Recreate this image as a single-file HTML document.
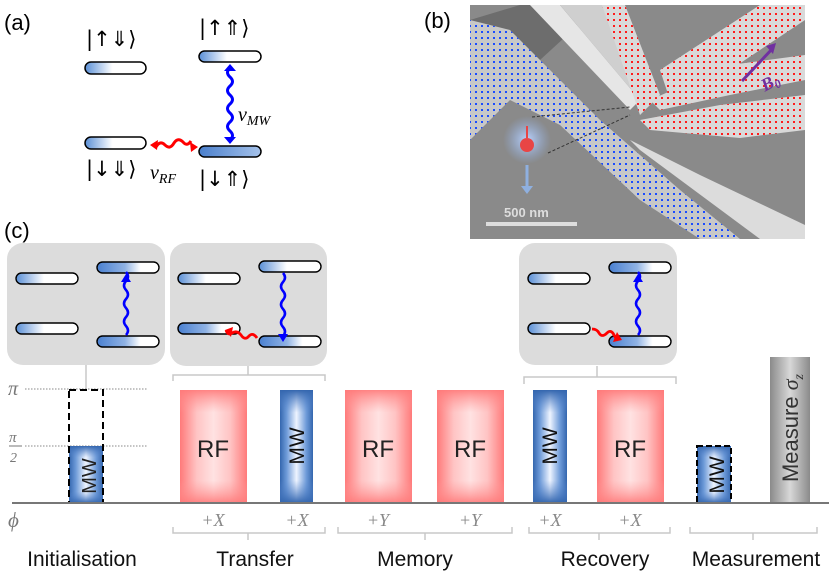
<!DOCTYPE html>
<html><head><meta charset="utf-8"><style>
html,body{margin:0;padding:0;background:#fff}
svg{display:block}
text{font-family:"Liberation Sans",sans-serif}
.it,.it text,text.it{font-family:"Liberation Serif",serif;font-style:italic}
.kt{font-family:"DejaVu Sans",sans-serif}
</style></head><body>
<svg width="829" height="573" viewBox="0 0 829 573" xmlns="http://www.w3.org/2000/svg">
<defs>
<linearGradient id="pl" x1="0" x2="1" y1="0" y2="0"><stop offset="0" stop-color="#5a8fd6"/><stop offset="0.45" stop-color="#fff"/><stop offset="1" stop-color="#fff"/></linearGradient>
<linearGradient id="pl2" x1="0" x2="1" y1="0" y2="0"><stop offset="0" stop-color="#4a80d0"/><stop offset="0.45" stop-color="#8fb2e4"/><stop offset="0.7" stop-color="#fff"/><stop offset="1" stop-color="#fff"/></linearGradient>
<linearGradient id="plf" x1="0" x2="1" y1="0" y2="0"><stop offset="0" stop-color="#4a7fcc"/><stop offset="1" stop-color="#a5c2ea"/></linearGradient>
<linearGradient id="rfh" x1="0" x2="1"><stop offset="0" stop-color="#ff7a7a"/><stop offset="0.25" stop-color="#ffc4c4"/><stop offset="0.5" stop-color="#ffe2e2"/><stop offset="0.75" stop-color="#ffc4c4"/><stop offset="1" stop-color="#ff7a7a"/></linearGradient>
<linearGradient id="rfv" x1="0" x2="0" y1="0" y2="1"><stop offset="0" stop-color="#ff7a7a" stop-opacity=".9"/><stop offset="0.2" stop-color="#ff9a9a" stop-opacity="0"/><stop offset="0.8" stop-color="#ff9a9a" stop-opacity="0"/><stop offset="1" stop-color="#ff7a7a" stop-opacity=".9"/></linearGradient>
<linearGradient id="mwh" x1="0" x2="1"><stop offset="0" stop-color="#3466ae"/><stop offset="0.2" stop-color="#6d9ad8"/><stop offset="0.5" stop-color="#eef4ff"/><stop offset="0.8" stop-color="#6d9ad8"/><stop offset="1" stop-color="#3466ae"/></linearGradient>
<linearGradient id="mwv" x1="0" x2="0" y1="0" y2="1"><stop offset="0" stop-color="#3466ae" stop-opacity="1"/><stop offset="0.2" stop-color="#5b8ad0" stop-opacity="0"/><stop offset="0.8" stop-color="#5b8ad0" stop-opacity="0"/><stop offset="1" stop-color="#3466ae" stop-opacity="1"/></linearGradient>
<linearGradient id="gyh" x1="0" x2="1"><stop offset="0" stop-color="#8a8a8a"/><stop offset="0.5" stop-color="#d8d8d8"/><stop offset="1" stop-color="#8a8a8a"/></linearGradient>
<pattern id="bd" width="6" height="6" patternUnits="userSpaceOnUse"><rect x="1" y="1" width="2" height="2" fill="#1a4cff"/></pattern>
<pattern id="rd" width="6" height="6" patternUnits="userSpaceOnUse"><rect x="1" y="1" width="2" height="2" fill="#ff1a1a"/></pattern>
<radialGradient id="glow"><stop offset="0" stop-color="#bcd4ff"/><stop offset="1" stop-color="#8fb0e8" stop-opacity="0"/></radialGradient>
</defs>

<!-- (a) -->
<text x="4" y="30" font-size="22">(a)</text>
<text x="86" y="46" font-size="21" class="kt">|↑⇓⟩</text>
<text x="199" y="35" font-size="21" class="kt">|↑⇑⟩</text>
<text x="86" y="176" font-size="21" class="kt">|↓⇓⟩</text>
<text x="199" y="186" font-size="21" class="kt">|↓⇑⟩</text>
<rect x="85" y="62" width="61" height="12" rx="6" fill="url(#pl)" stroke="#000" stroke-width="1.5"/>
<rect x="199" y="51" width="62" height="11" rx="5.5" fill="url(#pl)" stroke="#000" stroke-width="1.5"/>
<rect x="85" y="137" width="61" height="12" rx="6" fill="url(#pl)" stroke="#000" stroke-width="1.5"/>
<rect x="199" y="146" width="62" height="11" rx="5.5" fill="url(#plf)" stroke="#000" stroke-width="1.5"/>
<path d="M230,140 q5,-4.5 0,-9 q-5,-4.5 0,-9 q5,-4.5 0,-9 q-5,-4.5 0,-9 q5,-4.5 0,-9 q-5,-4.5 0,-9 q5,-4.5 0,-9 q-5,-4.5 0,-9" fill="none" stroke="#0000ff" stroke-width="3"/>
<path d="M224,71 L230,64 L236,71Z M224,137 L230,144 L236,137Z" fill="#0000ff"/>
<text x="238" y="121" font-size="20" class="it">ν<tspan font-size="14" dy="4">MW</tspan></text>
<path d="M156,147 q4,-7 9,-2 q5,5 9,-2 q4,-6 9,-1 q4,5 8,-1" fill="none" stroke="#ff0000" stroke-width="3"/>
<path d="M150,145 L158,140 L157,150Z M198,147 L190,142 L191,152Z" fill="#ff0000"/>
<text x="150" y="179" font-size="20" class="it">ν<tspan font-size="14" dy="4">RF</tspan></text>

<!-- (b) -->
<text x="424" y="28" font-size="22">(b)</text>
<rect x="470" y="5" width="335" height="234" fill="#8a8a8a"/>
<path d="M470,20 L520,5 L600,5 L540,60 L500,100 L470,140Z" fill="#6d6d6d"/>
<path d="M470,20 L470,140 L510,100 L560,125 L640,200 L700,239 L740,239 L680,190 L600,120 L540,60 L510,30Z" fill="#c8c8c8"/>
<path d="M470,20 L470,140 L510,100 L560,125 L640,200 L700,239 L740,239 L680,190 L600,120 L540,60 L510,30Z" fill="url(#bd)"/>
<path d="M530,5 L560,5 L640,100 L630,110Z" fill="#e6e6e6"/>
<path d="M560,5 L610,5 L650,90 L640,100Z" fill="#cfcfcf"/>
<path d="M630,140 L700,175 L805,225 L805,239 L760,239 L640,150Z" fill="#dcdcdc"/>
<path d="M602,5 L625,5 L660,95 L640,115Z" fill="#d9d9d9"/>
<path d="M602,5 L625,5 L660,95 L640,115Z" fill="url(#rd)"/>
<path d="M660,70 L760,5 L805,5 L805,20 L700,90 L670,100Z" fill="#d9d9d9"/>
<path d="M660,70 L760,5 L805,5 L805,20 L700,90 L670,100Z" fill="url(#rd)"/>
<path d="M650,100 L730,65 L805,55 L805,80 L730,95 L660,110Z" fill="#d9d9d9"/>
<path d="M650,100 L730,65 L805,55 L805,80 L730,95 L660,110Z" fill="url(#rd)"/>
<path d="M640,120 L720,105 L805,95 L805,130 L740,138 L650,130Z" fill="#d9d9d9"/>
<path d="M640,120 L720,105 L805,95 L805,130 L740,138 L650,130Z" fill="url(#rd)"/>
<line x1="532" y1="117" x2="630" y2="107" stroke="#333" stroke-dasharray="3,2"/>
<line x1="548" y1="153" x2="630" y2="115" stroke="#333" stroke-dasharray="3,2"/>
<circle cx="527" cy="140" r="24" fill="url(#glow)"/>
<circle cx="527" cy="145" r="7" fill="#e84545"/>
<line x1="527" y1="138" x2="527" y2="126" stroke="#e84545" stroke-width="2"/>
<line x1="527" y1="165" x2="527" y2="188" stroke="#8fb0e0" stroke-width="3"/>
<path d="M521,186 L527,194 L533,186Z" fill="#8fb0e0"/>
<text x="504" y="217" font-size="13" font-weight="bold" fill="#ddd">500 nm</text>
<rect x="486" y="222" width="91" height="4" fill="#ddd"/>
<line x1="742" y1="81" x2="773" y2="48" stroke="#7030a0" stroke-width="3"/>
<path d="M766,46 L776,43 L773,54Z" fill="#7030a0"/>
<text x="760" y="88" font-size="18" font-weight="bold" class="it" fill="#7030a0" transform="rotate(-28 770 80)">B<tspan font-size="12" dy="3">0</tspan></text>

<!-- (c) -->
<text x="4" y="238" font-size="22">(c)</text>
<rect x="7" y="243" width="158" height="122" rx="16" fill="#dcdcdc"/>
<rect x="170" y="243" width="157" height="123" rx="16" fill="#dcdcdc"/>
<rect x="519" y="243" width="158" height="122" rx="16" fill="#dcdcdc"/>
<g stroke="#000" stroke-width="1.4">
<rect x="16" y="273" width="62" height="11" rx="5.5" fill="url(#pl)"/>
<rect x="16" y="323" width="62" height="11" rx="5.5" fill="url(#pl)"/>
<rect x="97" y="262" width="62" height="11" rx="5.5" fill="url(#pl2)"/>
<rect x="97" y="336" width="62" height="11" rx="5.5" fill="url(#pl2)"/>
<rect x="178" y="273" width="62" height="11" rx="5.5" fill="url(#pl)"/>
<rect x="178" y="323" width="62" height="11" rx="5.5" fill="url(#pl2)"/>
<rect x="259" y="261" width="62" height="11" rx="5.5" fill="url(#pl)"/>
<rect x="259" y="336" width="62" height="11" rx="5.5" fill="url(#pl2)"/>
<rect x="528" y="273" width="62" height="11" rx="5.5" fill="url(#pl)"/>
<rect x="528" y="323" width="62" height="11" rx="5.5" fill="url(#pl)"/>
<rect x="609" y="262" width="62" height="11" rx="5.5" fill="url(#pl2)"/>
<rect x="609" y="336" width="62" height="11" rx="5.5" fill="url(#pl2)"/>
</g>
<path d="M126,335 q4,-4.5 0,-9 q-4,-4.5 0,-9 q4,-4.5 0,-9 q-4,-4.5 0,-9 q4,-4.5 0,-9 q-4,-4.5 0,-9 q4,-4.5 0,-9" fill="none" stroke="#0000ff" stroke-width="2.5"/>
<path d="M121,282 L126,274 L131,282Z" fill="#0000ff"/>
<path d="M283,273 q4,4.5 0,9 q-4,4.5 0,9 q4,4.5 0,9 q-4,4.5 0,9 q4,4.5 0,9 q-4,4.5 0,9 q4,4.5 0,9" fill="none" stroke="#0000ff" stroke-width="2.5"/>
<path d="M278,334 L283,342 L288,334Z" fill="#0000ff"/>
<path d="M257,338 q-4,-6 -8,-2 q-4,5 -8,-1 q-4,-5 -9,-2 q-4,3 -6,-3" fill="none" stroke="#ff0000" stroke-width="2.8"/>
<path d="M225,330 L233,327 L231,337Z" fill="#ff0000"/>
<path d="M638,335 q4,-4.5 0,-9 q-4,-4.5 0,-9 q4,-4.5 0,-9 q-4,-4.5 0,-9 q4,-4.5 0,-9 q-4,-4.5 0,-9 q4,-4.5 0,-9" fill="none" stroke="#0000ff" stroke-width="2.5"/>
<path d="M633,282 L638,274 L643,282Z" fill="#0000ff"/>
<path d="M592,329 q5,0 7,4 q3,5 8,0 q4,-4 7,2 q2,4 4,5" fill="none" stroke="#ff0000" stroke-width="2.8"/>
<path d="M613,342 L622,340 L617,332Z" fill="#ff0000"/>

<g fill="none" stroke="#c8c8c8" stroke-width="1.5">
<line x1="86" y1="365" x2="86" y2="390"/>
<path d="M173,381 v-6 h75 v-9 M248,375 h77 v6"/>
<path d="M524,384 v-7 h73 v-11 M597,377 h79 v7"/>
<path d="M173,527 v6 h75 v7 M248,533 h77 v-6"/>
<path d="M338,527 v6 h87 v7 M425,533 h87 v-6"/>
<path d="M529,527 v6 h70 v7 M599,533 h71 v-6"/>
<path d="M690,527 v6 h63 v7 M753,533 h64 v-6"/>
</g>
<line x1="25" y1="389" x2="148" y2="389" stroke="#888" stroke-dasharray="1.5,1.5"/>
<line x1="25" y1="446" x2="148" y2="446" stroke="#888" stroke-dasharray="1.5,1.5"/>
<text x="8" y="395" font-size="20" class="it" fill="#777">π</text>
<text x="9" y="442" font-size="15" class="it" fill="#777">π</text>
<line x1="9" y1="446" x2="22" y2="446" stroke="#777"/>
<text x="10" y="462" font-size="14" class="it" fill="#777">2</text>
<text x="8" y="527" font-size="21" class="it" fill="#777">ϕ</text>

<rect x="69" y="446" width="34" height="57" fill="url(#mwh)"/>
<rect x="69" y="446" width="34" height="57" fill="url(#mwv)"/>
<rect x="69" y="390" width="34" height="113" fill="none" stroke="#000" stroke-width="2" stroke-dasharray="7,4"/>
<text transform="translate(96 476) rotate(-90)" text-anchor="middle" font-size="20" fill="#222">MW</text>

<g>
<rect x="180" y="390" width="67" height="113" fill="url(#rfh)"/><rect x="180" y="390" width="67" height="113" fill="url(#rfv)"/>
<rect x="345" y="390" width="67" height="113" fill="url(#rfh)"/><rect x="345" y="390" width="67" height="113" fill="url(#rfv)"/>
<rect x="437" y="390" width="67" height="113" fill="url(#rfh)"/><rect x="437" y="390" width="67" height="113" fill="url(#rfv)"/>
<rect x="597" y="390" width="67" height="113" fill="url(#rfh)"/><rect x="597" y="390" width="67" height="113" fill="url(#rfv)"/>
<rect x="280" y="390" width="33" height="113" fill="url(#mwh)"/><rect x="280" y="390" width="33" height="113" fill="url(#mwv)"/>
<rect x="533" y="390" width="34" height="113" fill="url(#mwh)"/><rect x="533" y="390" width="34" height="113" fill="url(#mwv)"/>
<rect x="697" y="446" width="34" height="57" fill="url(#mwh)"/><rect x="697" y="446" width="34" height="57" fill="url(#mwv)"/>
<rect x="697" y="446" width="34" height="57" fill="none" stroke="#000" stroke-width="2" stroke-dasharray="6,3"/>
<rect x="770" y="357" width="40" height="146" fill="url(#gyh)"/>
</g>
<g font-size="24" fill="#222" text-anchor="middle">
<text x="213" y="457">RF</text><text x="378" y="457">RF</text><text x="470" y="457">RF</text><text x="630" y="457">RF</text>
</g>
<g font-size="21" fill="#111" text-anchor="middle">
<text transform="translate(304 446) rotate(-90)">MW</text>
<text transform="translate(557 446) rotate(-90)">MW</text>
<text transform="translate(724 475) rotate(-90)">MW</text>
<text transform="translate(798 428) rotate(-90)" fill="#333" font-size="22">Measure <tspan class="it">σ<tspan font-size="14" dy="5">z</tspan></tspan></text>
</g>
<line x1="12" y1="503" x2="829" y2="503" stroke="#777" stroke-width="2"/>

<g font-size="18" fill="#888" text-anchor="middle" class="it">
<text x="213" y="526">+X</text><text x="297" y="526">+X</text><text x="378" y="526">+Y</text><text x="470" y="526">+Y</text><text x="550" y="526">+X</text><text x="630" y="526">+X</text>
</g>
<g font-size="21" fill="#111" text-anchor="middle">
<text x="82" y="566">Initialisation</text>
<text x="255" y="566">Transfer</text>
<text x="415" y="566">Memory</text>
<text x="605" y="566">Recovery</text>
<text x="756" y="566">Measurement</text>
</g>
</svg>
</body></html>
